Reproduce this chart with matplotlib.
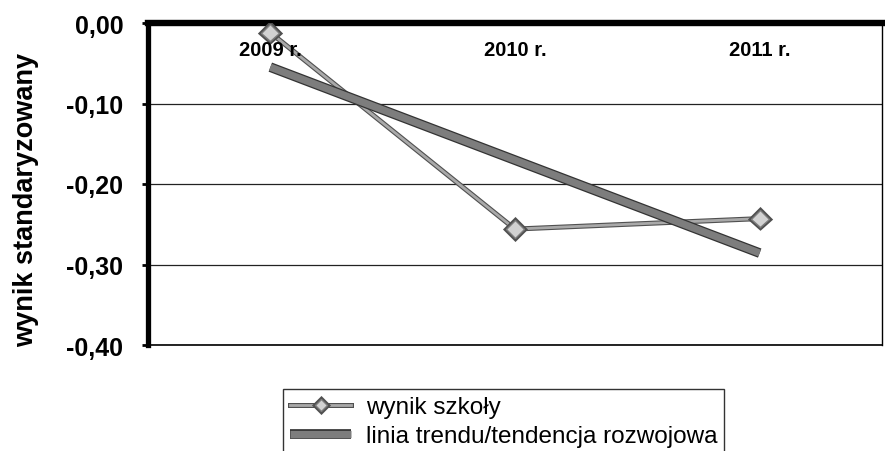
import numpy as np
import matplotlib
matplotlib.use("Agg")
import matplotlib.pyplot as plt
import matplotlib.patheffects as pe
from matplotlib.lines import Line2D
from matplotlib.transforms import blended_transform_factory

# ---- data ----
years = ["2009 r.", "2010 r.", "2011 r."]
school = [-0.012, -0.256, -0.243]
yticks = [0.0, -0.1, -0.2, -0.3, -0.4]
ytick_labels = ["0,00", "-0,10", "-0,20", "-0,30", "-0,40"]
series_name = "wynik szkoły"
trend_name = "linia trendu/tendencja rozwojowa"
ylabel = "wynik standaryzowany"

plt.rcParams['font.family'] = ['Liberation Sans', 'DejaVu Sans']

W, H = 885, 452
fig = plt.figure(figsize=(W / 100, H / 100), dpi=100)
ax = fig.add_axes([148 / W, 1 - 346 / H, (882 - 148) / W, (346 - 24) / H])

x = np.arange(len(years))
coef = np.polyfit(x, school, 1)
trend = np.polyval(coef, x)

series_style = dict(color='#a9a9a9', lw=2.0, marker='D', mfc='#d2d2d2',
                    mec='#7c7c7c', mew=1.0,
                    path_effects=[pe.Stroke(linewidth=3.6, foreground='#505050'), pe.Normal()])
trend_style = dict(color='#7d7d7d', lw=5.2, solid_capstyle='butt',
                   path_effects=[pe.Stroke(linewidth=7.0, foreground='#333333'), pe.Normal()])

ax.plot(x, school, ms=9, zorder=3, **series_style)
ax.plot(x, trend, zorder=4, **trend_style)

ax.set_xlim(-0.5, len(years) - 0.5)
ax.set_ylim(-0.4, 0.0)
ax.set_yticks(yticks)
ax.set_yticklabels(ytick_labels, fontsize=18, fontweight='bold')
ax.tick_params(axis='y', direction='out', length=4.3, width=2, pad=13.5)
ax.set_xticks([])
ax.yaxis.grid(True, color='#222222', lw=0.9)
ax.set_axisbelow(True)

ax.spines['left'].set_linewidth(3.8)
ax.spines['top'].set_linewidth(4.6)
ax.spines['bottom'].set_linewidth(1.2)
ax.spines['right'].set_linewidth(1.0)
for s in ax.spines.values():
    s.set_color('black')

tr = blended_transform_factory(ax.transData, ax.transAxes)
for i, lab in enumerate(years):
    ax.annotate(lab, xy=(i, 1.0), xycoords=tr, xytext=(0, -12),
                textcoords='offset points', ha='center', va='top',
                fontsize=14.5, fontweight='bold', zorder=5)

fig.text(26 / W, 1 - 200 / H, ylabel, rotation=90, ha='center', va='center',
         fontsize=19.5, fontweight='bold')

handles = [
    Line2D([], [], ms=6, **series_style),
    Line2D([], [], **trend_style),
]
leg = fig.legend(handles, [series_name, trend_name], loc='upper left',
                 bbox_to_anchor=(283 / W, 1 - 390 / H), fontsize=17.5,
                 frameon=True, fancybox=False, edgecolor='black',
                 handlelength=2.5, handletextpad=0.6, borderpad=0.3,
                 labelspacing=0.28, borderaxespad=0)
leg.get_frame().set_linewidth(1.0)

fig.savefig("out.png", dpi=100)
